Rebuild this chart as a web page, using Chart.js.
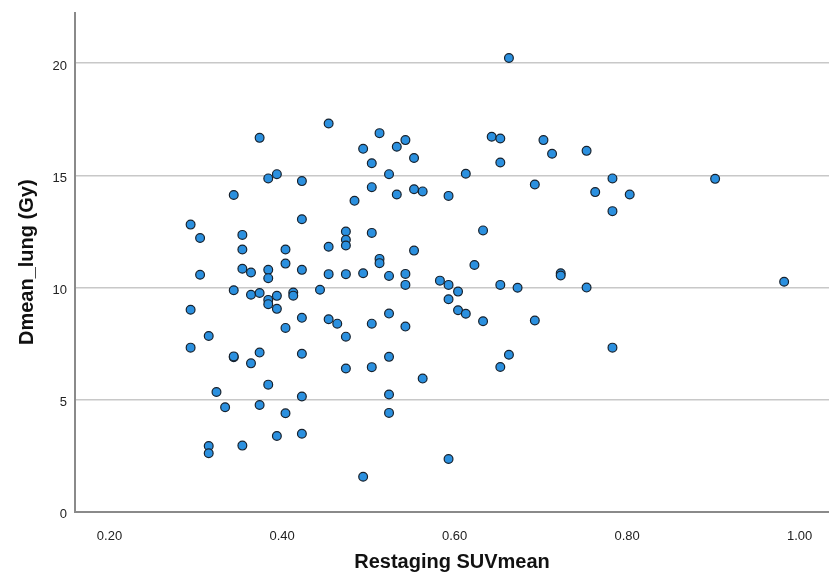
<!DOCTYPE html>
<html>
<head>
<meta charset="utf-8">
<script src="https://cdn.jsdelivr.net/npm/chart.js@4.4.1/dist/chart.umd.min.js"></script>
<style>
  html, body { margin: 0; padding: 0; background: #fff; }
  #wrap { width: 829px; height: 575px; }
</style>
</head>
<body>
<div id="wrap"><canvas id="scatter" width="829" height="575"></canvas></div>
<script>
// Restaging SUVmean (x) vs Dmean_lung in Gy (y)
const suvMean = [
  0.374, 0.344, 0.294, 0.305, 0.354, 0.354,
  0.454, 0.513, 0.543, 0.533, 0.494, 0.504, 0.553, 0.384, 0.394, 0.423,
  0.524, 0.504, 0.533, 0.553, 0.563, 0.593, 0.484, 0.423, 0.474, 0.474,
  0.474, 0.504, 0.404, 0.454, 0.553, 0.513,
  0.663, 0.643, 0.653, 0.703, 0.713, 0.753, 0.653, 0.613, 0.693, 0.763,
  0.783, 0.803, 0.783, 0.633,
  0.902,
  0.305, 0.354, 0.364, 0.344, 0.364, 0.374, 0.294, 0.315, 0.294, 0.344,
  0.344, 0.364, 0.374, 0.324, 0.334, 0.374, 0.315, 0.315, 0.354,
  0.513, 0.384, 0.384, 0.404, 0.423, 0.454, 0.474, 0.494, 0.524, 0.543,
  0.543, 0.583, 0.593, 0.593, 0.384, 0.384, 0.394, 0.394, 0.413, 0.413,
  0.444, 0.404, 0.423, 0.454, 0.464, 0.474, 0.504, 0.524, 0.543, 0.423,
  0.474, 0.504, 0.524, 0.563, 0.384, 0.423, 0.404, 0.524, 0.524, 0.394,
  0.423, 0.494, 0.593,
  0.623, 0.604, 0.604, 0.613, 0.633, 0.653, 0.673, 0.693, 0.723, 0.723,
  0.753, 0.663, 0.653, 0.783,
  0.982
];
const dmeanLung = [
  16.67, 14.12, 12.80, 12.20, 12.34, 11.69,
  17.31, 16.88, 16.57, 16.27, 16.18, 15.54, 15.77, 14.86, 15.05, 14.74,
  15.05, 14.47, 14.14, 14.38, 14.28, 14.08, 13.86, 13.04, 12.49, 12.12,
  11.87, 12.43, 11.69, 11.81, 11.64, 11.27,
  20.23, 16.72, 16.64, 16.57, 15.96, 16.09, 15.57, 15.07, 14.59, 14.25,
  14.86, 14.14, 13.40, 12.54,
  14.84,
  10.56, 10.83, 10.66, 9.87, 9.67, 9.75, 9.00, 7.83, 7.31, 6.88,
  6.92, 6.61, 7.09, 5.33, 4.65, 4.75, 2.92, 2.60, 2.94,
  11.08, 10.78, 10.41, 11.06, 10.78, 10.59, 10.59, 10.63, 10.51, 10.60,
  10.11, 10.30, 10.11, 9.47, 9.44, 9.25, 9.62, 9.04, 9.77, 9.63,
  9.89, 8.19, 8.64, 8.58, 8.38, 7.80, 8.38, 8.83, 8.25, 7.04,
  6.38, 6.44, 6.90, 5.93, 5.66, 5.13, 4.38, 5.22, 4.40, 3.37,
  3.47, 1.55, 2.34,
  11.00, 9.81, 8.98, 8.82, 8.49, 10.11, 9.98, 8.52, 10.63, 10.53,
  9.99, 6.99, 6.45, 7.31,
  10.25
];

// axis settings
const xMin = 0.16, xMax = 1.034, xStep = 0.2;
const yMin = 0, yMax = 22.24, yStep = 5;
const xTitle = "Restaging SUVmean";
const yTitle = "Dmean_lung (Gy)";

const points = suvMean.map((v, i) => ({ x: v, y: dmeanLung[i] }));

const tickFont = { family: "'Liberation Sans', Arial, sans-serif", size: 13 };
const titleFont = { family: "'Liberation Sans', Arial, sans-serif", size: 20, weight: "bold" };

new Chart(document.getElementById("scatter"), {
    type: "scatter",
    data: {
        datasets: [{
            data: points,
            backgroundColor: "#2b90df",
            borderColor: "#17222e",
            borderWidth: 1.2,
            pointRadius: 4.4,
            pointHoverRadius: 4.4,
        }]
    },
    options: {
        responsive: false,
        animation: false,
        layout: {
            autoPadding: false, // no extra room for point radius, plot runs to the edge
            padding: { top: 13, right: 0, left: 0, bottom: 0 },
        },
        plugins: {
            legend: { display: false },
            tooltip: { enabled: false },
        },
        scales: {
            x: {
                type: "linear",
                min: xMin,
                max: xMax,
                grid: { display: false },
                border: { display: true, color: "#8a8a8a", width: 2 },
                ticks: {
                    stepSize: xStep,
                    includeBounds: false,
                    padding: 9,
                    color: "#222",
                    font: tickFont,
                    maxRotation: 0,
                    callback: (v) => v.toFixed(2),
                },
                title: {
                    display: true,
                    text: xTitle,
                    color: "#111",
                    font: titleFont,
                    padding: { top: 0, bottom: 1 },
                },
                afterFit: (scale) => {
                    scale.height = 63.5;
                    scale.paddingLeft = 0;
                    scale.paddingRight = 0;
                },
            },
            y: {
                type: "linear",
                min: yMin,
                max: yMax,
                grid: { color: "#c8c8c8", lineWidth: 1.5, drawTicks: false },
                border: { display: true, color: "#8a8a8a", width: 2 },
                ticks: {
                    stepSize: yStep,
                    includeBounds: false,
                    padding: 8,
                    labelOffset: 3,
                    color: "#222",
                    font: tickFont,
                },
                title: {
                    display: true,
                    text: yTitle,
                    color: "#111",
                    font: titleFont,
                    padding: { top: 15, bottom: 0 },
                },
                afterFit: (scale) => {
                    scale.width = 75;
                    scale.paddingTop = 0;
                    scale.paddingBottom = 0;
                },
            },
        },
    },
});
</script>
</body>
</html>
